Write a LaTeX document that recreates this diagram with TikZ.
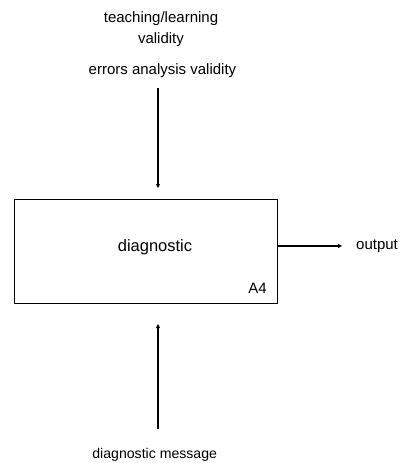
\documentclass[tikz,border=0pt]{standalone}
\usepackage{fontspec}
\setmainfont{Liberation Sans}
\usetikzlibrary{arrows.meta}
\begin{document}
\begin{tikzpicture}[x=1pt,y=-1pt,
  flow/.style={line width=1.3pt,-{Triangle[length=4pt,width=4pt]}},
  label/.style={inner sep=0pt,font=\fontsize{15}{18}\selectfont,anchor=base},
  boxlabel/.style={inner sep=0pt,font=\fontsize{16.5}{19}\selectfont,anchor=base}]
  \useasboundingbox (0,0) rectangle (407,463);
  % activity box
  \node[draw,line width=0.8pt,minimum width=263pt,minimum height=104.5pt,inner sep=0pt,anchor=north west] (act) at (14,198.5) {};
  \node[boxlabel] (name) at (155,251.5) {diagnostic};
  \node[label,anchor=base east] (id) at (267,293) {A4};
  % control inputs
  \node[label] (ctl1) at (161,22) {teaching/learning};
  \node[label] (ctl2) at (161,43) {validity};
  \node[label] (ctl3) at (162.5,74) {errors analysis validity};
  \coordinate (ctltop) at (158,88);
  \draw[flow] (ctltop) -- (158,188);
  % mechanism input
  \node[label,font=\fontsize{14.1}{17}\selectfont] (mech) at (154.7,458) {diagnostic message};
  \coordinate (mechbot) at (158,429);
  \draw[flow] (mechbot) -- (158,324);
  % output
  \node[label,anchor=base west] (out) at (356,249) {output};
  \draw[flow] (act.east |- 0,246) -- (342,246);
\end{tikzpicture}
\end{document}
